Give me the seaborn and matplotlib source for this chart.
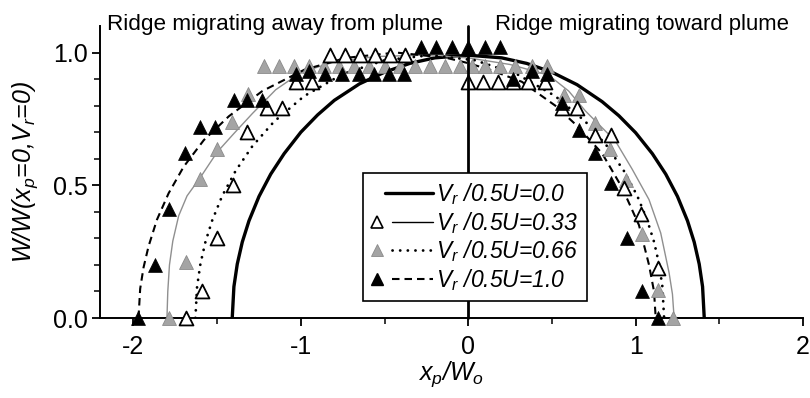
import matplotlib
matplotlib.use("Agg")
import matplotlib.pyplot as plt
import seaborn as sns
from matplotlib.lines import Line2D
from matplotlib.legend_handler import HandlerBase
from matplotlib.ticker import FixedLocator

# ---- model curves (x_p/W_o, W/W0) ----
c00_x = [-1.41, -1.40, -1.38, -1.35, -1.31, -1.25, -1.18, -1.10, -1.00, -0.90, -0.80, -0.65, -0.50,
         -0.35, -0.20, 0.0, 0.20, 0.35, 0.50, 0.65, 0.80, 0.90, 1.00, 1.10, 1.18, 1.25, 1.31, 1.35,
         1.38, 1.40, 1.41]
c00_y = [0.0, 0.118, 0.203, 0.286, 0.366, 0.458, 0.542, 0.619, 0.700, 0.765, 0.820, 0.882, 0.926,
         0.959, 0.980, 0.990, 0.980, 0.959, 0.926, 0.879, 0.815, 0.762, 0.698, 0.619, 0.542, 0.458,
         0.366, 0.286, 0.203, 0.118, 0.0]

c33_x = [-1.80, -1.795, -1.785, -1.765, -1.73, -1.68, -1.60, -1.50, -1.40, -1.29, -1.15, -1.00,
         -0.80, -0.55, -0.28, 0.0, 0.25, 0.48, 0.60, 0.70, 0.88, 0.98, 1.08, 1.15, 1.20, 1.22, 1.23]
c33_y = [0.0, 0.10, 0.20, 0.29, 0.385, 0.46, 0.53, 0.625, 0.695, 0.77, 0.86, 0.925, 0.965, 0.985,
         0.99, 0.98, 0.955, 0.915, 0.855, 0.78, 0.666, 0.56, 0.446, 0.32, 0.17, 0.09, 0.0]

c66_x = [-1.63, -1.62, -1.60, -1.57, -1.53, -1.47, -1.39, -1.29, -1.16, -0.98, -0.75, -0.50, -0.23,
         0.04, 0.29, 0.52, 0.70, 0.83, 0.93, 1.01, 1.07, 1.11, 1.14, 1.16, 1.17]
c66_y = [0.0, 0.118, 0.204, 0.287, 0.367, 0.460, 0.554, 0.647, 0.740, 0.836, 0.919, 0.971, 0.990,
         0.971, 0.919, 0.836, 0.740, 0.647, 0.554, 0.460, 0.367, 0.287, 0.204, 0.118, 0.0]

c10_x = [-1.97, -1.96, -1.94, -1.91, -1.86, -1.79, -1.70, -1.58, -1.43, -1.23, -0.98, -0.73, -0.43,
         -0.13, 0.0, 0.13, 0.32, 0.52, 0.64, 0.80, 0.92, 1.02, 1.08, 1.11, 1.12]
c10_y = [0.0, 0.11, 0.19, 0.27, 0.37, 0.47, 0.57, 0.67, 0.76, 0.855, 0.935, 0.98, 1.0, 0.98, 0.96,
         0.935, 0.89, 0.80, 0.73, 0.62, 0.49, 0.35, 0.20, 0.10, 0.0]

# ---- experimental data ----
open_x = [-1.685, -1.59, -1.50, -1.405, -1.32, -1.20, -1.115, -1.03, -0.935, -0.825, -0.735, -0.645,
          -0.555, -0.465, -0.38, 0.0, 0.09, 0.18, 0.27, 0.36, 0.46, 0.56, 0.65, 0.76, 0.85, 0.93,
          1.035, 1.135]
open_y = [0.0, 0.10, 0.30, 0.50, 0.70, 0.79, 0.79, 0.89, 0.89, 0.99, 0.99, 0.99, 0.99, 0.99, 0.99,
          0.89, 0.89, 0.89, 0.89, 0.89, 0.89, 0.79, 0.79, 0.69, 0.69, 0.49, 0.39, 0.19]

gray_x = [-1.785, -1.685, -1.60, -1.50, -1.41, -1.317, -1.22, -1.13, -1.04, -0.95, -0.86, -0.77,
          -0.68, -0.59, -0.50, -0.41, -0.32, -0.23, -0.14, -0.05, 0.02, 0.10, 0.19, 0.28, 0.38, 0.47,
          0.57, 0.66, 0.76, 0.845, 0.94, 1.04, 1.135, 1.225]
gray_y = [0.0, 0.21, 0.525, 0.635, 0.74, 0.843, 0.95, 0.95, 0.95, 0.95, 0.95, 0.95, 0.95, 0.95,
          0.95, 0.95, 0.95, 0.95, 0.95, 0.95, 0.95, 0.95, 0.95, 0.95, 0.95, 0.95, 0.84, 0.84, 0.735,
          0.635, 0.52, 0.315, 0.107, 0.0]

black_x = [-1.97, -1.87, -1.785, -1.69, -1.60, -1.51, -1.40, -1.32, -1.23, -1.03, -0.95, -0.855,
           -0.755, -0.655, -0.565, -0.475, -0.385, -0.28, -0.19, -0.10, 0.0, 0.10, 0.19, 0.27, 0.38,
           0.47, 0.56, 0.66, 0.76, 0.85, 0.95, 1.04, 1.135]
black_y = [0.0, 0.20, 0.41, 0.62, 0.72, 0.72, 0.82, 0.82, 0.82, 0.92, 0.93, 0.92, 0.92, 0.92, 0.92,
           0.92, 0.92, 1.02, 1.02, 1.02, 1.02, 1.02, 1.02, 0.90, 0.93, 0.92, 0.81, 0.71, 0.62, 0.51,
           0.30, 0.10, 0.0]

legend_labels = ["V$_r$ /0.5U=0.0", "V$_r$ /0.5U=0.33", "V$_r$ /0.5U=0.66", "V$_r$ /0.5U=1.0"]
x_ticks = [-2, -1, 0, 1, 2]
x_ticklabels = ["-2", "-1", "0", "1", "2"]
y_ticks = [0.0, 0.5, 1.0]
y_ticklabels = ["0.0", "0.5", "1.0"]

sns.set_theme(style="ticks")
plt.rcParams["font.family"] = ["Liberation Sans", "DejaVu Sans"]
plt.rcParams["mathtext.fontset"] = "custom"
plt.rcParams["mathtext.it"] = "Liberation Sans:italic"
plt.rcParams["mathtext.rm"] = "Liberation Sans"
plt.rcParams["mathtext.default"] = "it"
plt.rcParams["axes.unicode_minus"] = False

W, H = 810, 398
fig = plt.figure(figsize=(W / 100, H / 100), dpi=100)
ax_l, ax_r, ax_t, ax_b = 100, 803, 26, 318
ax = fig.add_axes([ax_l / W, 1 - ax_b / H, (ax_r - ax_l) / W, (ax_b - ax_t) / H])

GRAY_LINE = "#8f8f8f"
GRAY_FILL = "#a4a4a4"

# model curves
sns.lineplot(x=c00_x, y=c00_y, ax=ax, color="black", lw=2.4, estimator=None, sort=False,
             zorder=2)
sns.lineplot(x=c33_x, y=c33_y, ax=ax, color=GRAY_LINE, lw=1.0, estimator=None, sort=False,
             zorder=2)
sns.lineplot(x=c66_x, y=c66_y, ax=ax, color="black", lw=2.0, estimator=None, sort=False,
             linestyle=(0, (0.05, 2.7)), dash_capstyle="round", zorder=2)
sns.lineplot(x=c10_x, y=c10_y, ax=ax, color="black", lw=1.5, estimator=None, sort=False,
             linestyle=(0, (3.6, 2.4)), zorder=2)

# data points
msize = 100
sns.scatterplot(x=gray_x, y=gray_y, ax=ax, marker="^", s=msize, color=GRAY_FILL,
                edgecolor="#8a8a8a", linewidth=0.6, clip_on=False, zorder=3)
sns.scatterplot(x=open_x, y=open_y, ax=ax, marker="^", s=msize, color="white",
                edgecolor="black", linewidth=1.3, clip_on=False, zorder=3)
sns.scatterplot(x=black_x, y=black_y, ax=ax, marker="^", s=msize, color="black",
                edgecolor="black", linewidth=0.5, clip_on=False, zorder=3)

ax.axvline(0, color="black", lw=2.0, zorder=4, clip_on=False)

ax.set_xlim(-2.2, 2.0)
ax.set_ylim(0.0, 1.1)
ax.set_xticks(x_ticks)
ax.set_xticklabels(x_ticklabels)
ax.set_yticks(y_ticks)
ax.set_yticklabels(y_ticklabels)
ax.xaxis.set_minor_locator(FixedLocator([-1.5, -0.5, 0.5, 1.5]))
ax.yaxis.set_minor_locator(FixedLocator([0.1, 0.2, 0.3, 0.4, 0.6, 0.7, 0.8, 0.9]))
ax.tick_params(which="major", direction="out", length=5.5, width=1.3, labelsize=18,
               color="black", labelcolor="black")
ax.tick_params(axis="x", which="major", pad=7)
ax.tick_params(axis="y", which="major", pad=3.5)
ax.tick_params(which="minor", direction="out", length=4, width=1.1, color="black")
for side in ("top", "right"):
    ax.spines[side].set_visible(False)
for side in ("left", "bottom"):
    ax.spines[side].set_linewidth(1.4)
    ax.spines[side].set_color("black")
ax.set_facecolor("white")

ax.set_xlabel("x$_p$/W$_o$", fontsize=18, style="italic", color="black", labelpad=0)
ax.set_ylabel("W/W(x$_p$=0,V$_r$=0)", fontsize=18, style="italic", color="black", labelpad=9)

fig.text(107 / W, 1 - 30 / H, "Ridge migrating away from plume", fontsize=16.2, va="baseline",
         color="black")
fig.text(495 / W, 1 - 30 / H, "Ridge migrating toward plume", fontsize=15.9, va="baseline",
         color="black")


class MarkerThenLine(HandlerBase):
    """Legend key with the marker at the left end and the line to its right."""

    def create_artists(self, legend, orig_handle, xdescent, ydescent, width, height,
                       fontsize, trans):
        y = height / 2 - ydescent
        x0 = -xdescent
        has_marker = orig_handle.get_marker() not in (None, "None", "", " ")
        start = x0 + (0.34 if has_marker else 0.22) * width
        line = Line2D([start, x0 + width], [y, y])
        line.update_from(orig_handle)
        line.set_marker("None")
        line.set_transform(trans)
        arts = [line]
        if has_marker:
            mk = Line2D([x0 + 0.1 * width], [y])
            mk.update_from(orig_handle)
            mk.set_linestyle("None")
            mk.set_transform(trans)
            arts.append(mk)
        return arts


handles = [
    Line2D([], [], color="black", lw=2.4),
    Line2D([], [], color="black", lw=1.0, marker="^", ms=9, mfc="white", mec="black", mew=1.2),
    Line2D([], [], color="black", lw=2.0, linestyle=(0, (0.05, 2.7)), dash_capstyle="round",
           marker="^", ms=8, mfc=GRAY_FILL, mec="#8a8a8a", mew=0.6),
    Line2D([], [], color="black", lw=1.5, linestyle=(0, (3.6, 2.4)), marker="^", ms=9,
           mfc="black", mec="black"),
]
leg = ax.legend(handles, legend_labels, loc="upper left",
                bbox_to_anchor=(363 / W, 1 - 173 / H), bbox_transform=fig.transFigure,
                borderaxespad=0, frameon=True, fancybox=False, framealpha=1,
                edgecolor="black", prop={"family": "Liberation Sans", "style": "italic",
                                         "size": 16.5},
                handlelength=2.7, handletextpad=0.15, borderpad=0.35, labelspacing=0.12,
                handler_map={Line2D: MarkerThenLine()})
leg.get_frame().set_linewidth(1.2)
for t in leg.get_texts():
    t.set_color("black")

fig.savefig("out.png", dpi=100, facecolor="white")
